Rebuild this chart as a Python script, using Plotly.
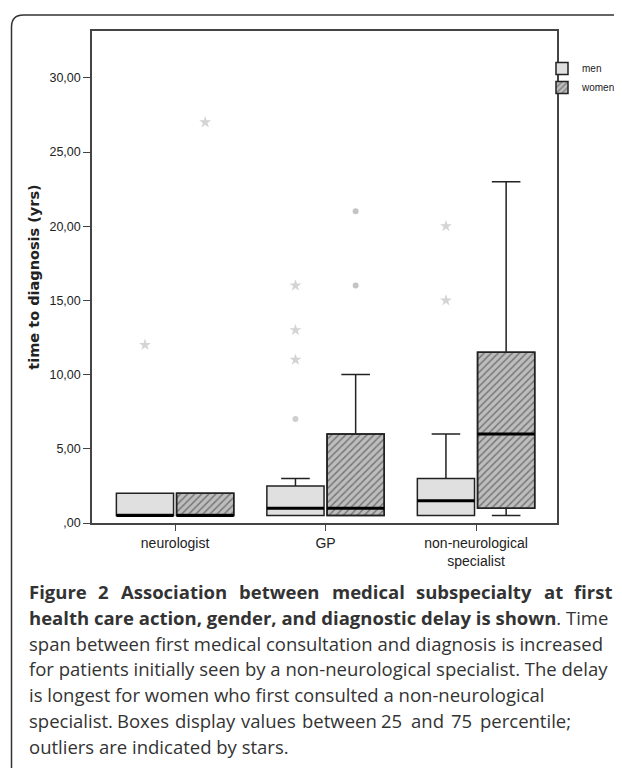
import plotly.graph_objects as go

# ---------------- data ----------------
categories = ["neurologist", "GP", "non-neurological<br>specialist"]
cat_pos = [0, 1, 2]

men_q1 = [0.5, 0.5, 0.5]
men_median = [0.5, 1.0, 1.5]
men_q3 = [2.0, 2.5, 3.0]
men_lower = [0.5, 0.5, 0.5]
men_upper = [2.0, 3.0, 6.0]

women_q1 = [0.5, 0.5, 1.0]
women_median = [0.5, 1.0, 6.0]
women_q3 = [2.0, 6.0, 11.5]
women_lower = [0.5, 0.5, 0.5]
women_upper = [2.0, 10.0, 23.0]

men_star_cat = [0, 1, 1, 1, 2, 2]
men_star_val = [12, 16, 13, 11, 20, 15]
men_circle_cat = [1]
men_circle_val = [7]
women_star_cat = [0]
women_star_val = [27]
women_circle_cat = [1, 1]
women_circle_val = [21, 16]

y_tickvals = [0, 5, 10, 15, 20, 25, 30]
y_ticktext = [",00", "5,00", "10,00", "15,00", "20,00", "25,00", "30,00"]

caption_title = "Figure 2 Association between medical subspecialty at first"
caption_lines = [
    "<b>health care action, gender, and diagnostic delay is shown</b>. Time",
    "span between first medical consultation and diagnosis is increased",
    "for patients initially seen by a non-neurological specialist. The delay",
    "is longest for women who first consulted a non-neurological",
    "specialist. Boxes display values between 25 and 75 percentile;",
    "outliers are indicated by stars.",
]

# ---------------- layout geometry (page pixels; body margin = 8px) ----------------
BODY = 8
W, H = 622 - BODY, 769 - BODY
PL, PR, PT, PB = 92, 557, 31, 523  # plot area in page pixels
OFF = 0.2
BW = 0.38
CAP_FONT = dict(family="Open Sans", size=18.5, color="#333333")


def px_x(px):
    return (px - PL) / (PR - PL)


def px_y(py):
    return (PB - py) / (PB - PT)


men_x = [c - OFF for c in cat_pos]
women_x = [c + OFF for c in cat_pos]

fig = go.Figure()

# hatched fill for women boxes
fig.add_trace(go.Bar(
    x=women_x, y=[q3 - q1 for q1, q3 in zip(women_q1, women_q3)], base=women_q1,
    width=BW, name="women", showlegend=True,
    marker=dict(color="#b8b8b8", line=dict(color="#222222", width=1.5),
                pattern=dict(shape="/", fgcolor="#333333", bgcolor="#bdbdbd",
                             size=5, solidity=0.3)),
    hoverinfo="skip",
))

# men boxes
fig.add_trace(go.Box(
    x=men_x, q1=men_q1, median=men_median, q3=men_q3,
    lowerfence=men_lower, upperfence=men_upper,
    width=BW, whiskerwidth=0.5, name="men", showlegend=True,
    fillcolor="#e0e0e0", line=dict(color="#222222", width=1.5),
    boxpoints=False,
))
# women box outlines / whiskers
fig.add_trace(go.Box(
    x=women_x, q1=women_q1, median=women_median, q3=women_q3,
    lowerfence=women_lower, upperfence=women_upper,
    width=BW, whiskerwidth=0.5, name="women", showlegend=False,
    fillcolor="rgba(0,0,0,0)", line=dict(color="#222222", width=1.5),
    boxpoints=False,
))

# thick median lines
for xs, meds in ((men_x, men_median), (women_x, women_median)):
    for x, m in zip(xs, meds):
        fig.add_trace(go.Scatter(
            x=[x - BW / 2, x + BW / 2], y=[m, m], mode="lines",
            line=dict(color="#000000", width=3), showlegend=False, hoverinfo="skip",
        ))

# outliers
fig.add_trace(go.Scatter(
    x=[c - OFF for c in men_star_cat], y=men_star_val, mode="markers",
    marker=dict(symbol="star", size=9, color="#d4d4d4"), showlegend=False,
))
fig.add_trace(go.Scatter(
    x=[c - OFF for c in men_circle_cat], y=men_circle_val, mode="markers",
    marker=dict(symbol="circle", size=6, color="#cfcfcf"), showlegend=False,
))
fig.add_trace(go.Scatter(
    x=[c + OFF for c in women_star_cat], y=women_star_val, mode="markers",
    marker=dict(symbol="star", size=9, color="#d4d4d4"), showlegend=False,
))
fig.add_trace(go.Scatter(
    x=[c + OFF for c in women_circle_cat], y=women_circle_val, mode="markers",
    marker=dict(symbol="circle", size=6, color="#c4c4c4"), showlegend=False,
))

# ---- caption helpers: approximate glyph advance widths (units / 2048) ----
OSB = {" ": 532, "2": 1171, "A": 1479, "F": 1151, "a": 1217, "b": 1296, "c": 1051,
       "d": 1296, "e": 1208, "f": 803, "g": 1145, "h": 1327, "i": 621, "l": 621,
       "m": 1989, "n": 1327, "o": 1266, "p": 1296, "r": 918, "s": 1030, "t": 885,
       "u": 1327, "w": 1794, "y": 1167}
OSR = {" ": 532, ".": 545, ";": 545, "2": 1171, "5": 1171, "7": 1171, "B": 1300,
       "a": 1139, "b": 1255, "c": 975, "d": 1255, "e": 1149, "g": 1122, "h": 1257,
       "i": 518, "l": 518, "n": 1257, "o": 1237, "p": 1255, "r": 836, "s": 977,
       "t": 723, "u": 1257, "v": 1026, "w": 1593, "y": 1028}
LEFT = 27


def spread(text, py, natural_px, right, table, bold):
    """Place words of one caption line so that it spans LEFT..right (justified)."""
    def em(word):
        return sum(table.get(ch, 1150) for ch in word) / 2048
    words = text.split()
    nat = sum(em(w) for w in words) + (len(words) - 1) * em(" ")
    scale = natural_px / nat
    extra = (right - LEFT - natural_px) / (len(words) - 1)
    xw = LEFT
    for w in words:
        fig.add_annotation(
            x=px_x(xw), y=px_y(py), xref="paper", yref="paper",
            xanchor="left", yanchor="middle",
            text=f"<b>{w}</b>" if bold else w, showarrow=False, font=CAP_FONT,
        )
        xw += (em(w) + em(" ")) * scale + extra


spread(caption_title, 591, 536, 611, OSB, True)

line_y = [617, 643, 668.5, 694, 720, 746]
for i, (txt, py) in enumerate(zip(caption_lines, line_y)):
    if i == 4:
        spread(txt, py, 495, 563, OSR, False)
        continue
    fig.add_annotation(
        x=px_x(LEFT), y=px_y(py), xref="paper", yref="paper",
        xanchor="left", yanchor="middle", text=txt, showarrow=False,
        font=CAP_FONT,
    )

# rounded outer frame
r = 12
L, T, B = 11.5, 15, 768
path = (f"M {px_x(L)},{px_y(B)} L {px_x(L)},{px_y(T + r)} "
        f"Q {px_x(L)},{px_y(T)} {px_x(L + r)},{px_y(T)} L {px_x(640)},{px_y(T)}")
fig.add_shape(type="path", path=path, xref="paper", yref="paper",
              line=dict(color="#333333", width=1.5))

fig.update_layout(
    width=W, height=H,
    margin=dict(l=PL - BODY, r=W - (PR - BODY), t=PT - BODY, b=H - (PB - BODY),
                autoexpand=False),
    paper_bgcolor="white", plot_bgcolor="white",
    barmode="overlay", boxmode="overlay",
    font=dict(family="Liberation Sans, Arial", color="#222222", size=12),
    legend=dict(x=px_x(542), y=px_y(54), xanchor="left", yanchor="top",
                font=dict(size=10, family="Liberation Sans, Arial"),
                bgcolor="rgba(0,0,0,0)", tracegroupgap=0, itemwidth=30,
                traceorder="reversed"),
    xaxis=dict(range=[-0.552, 2.538], tickvals=cat_pos, ticktext=categories,
               showline=True, linecolor="#444444", linewidth=1.5, mirror=True,
               ticks="outside", ticklen=6, tickcolor="#444444", showgrid=False,
               zeroline=False, tickfont=dict(size=14)),
    yaxis=dict(range=[0, (PB - PT) / 14.84], tickvals=y_tickvals, ticktext=y_ticktext,
               showline=True, linecolor="#444444", linewidth=1.5, mirror=True,
               ticks="outside", ticklen=7, tickcolor="#444444", showgrid=False,
               zeroline=False, tickfont=dict(size=12.5),
               title=dict(text="<b>time to diagnosis (yrs)</b>",
                          font=dict(size=14.5, family="DejaVu Sans"),
                          standoff=6)),
)

fig.write_html("out.html")
